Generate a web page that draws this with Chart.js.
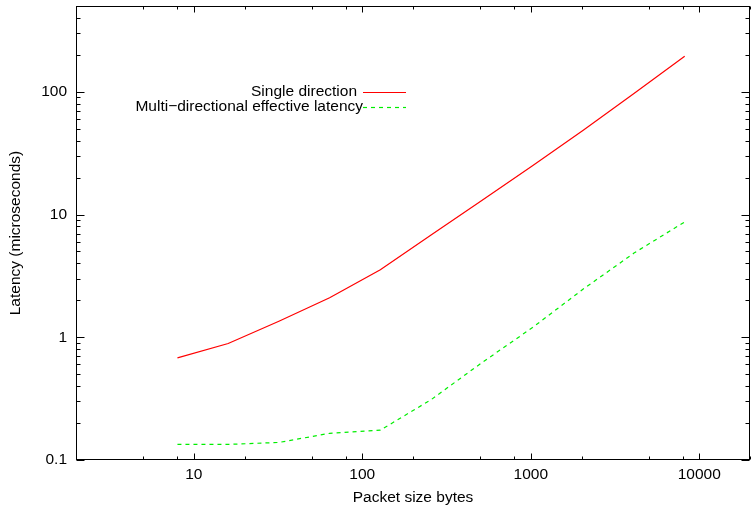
<!DOCTYPE html>
<html>
<head>
<meta charset="utf-8">
<script src="https://cdn.jsdelivr.net/npm/chart.js@4/dist/chart.umd.min.js"></script>
<style>
    body { margin: 0; background: #fff; }
</style>
</head>
<body>
<canvas id="latencyChart" width="751" height="507"></canvas>
<script>
var packetSizes = [8, 16, 32, 64, 128, 256, 512, 1024, 2048, 4096, 8192];
var singleDirection = [0.68, 0.89, 1.35, 2.1, 3.55, 6.8, 13, 25, 48.5, 97, 195];
var multiDirectional = [0.134, 0.134, 0.139, 0.165, 0.175, 0.31, 0.62, 1.2, 2.47, 4.85, 8.7];
var seriesLabels = ['Single direction', 'Multi\u2212directional effective latency'];

var xTickValues = [2, 5, 8, 10, 20, 50, 80, 100, 200, 500, 800, 1000, 2000, 5000, 8000, 10000, 20000];
var yTickValues = [0.1, 0.2, 0.3, 0.4, 0.5, 0.6, 0.7, 0.8, 0.9,
    1, 2, 3, 4, 5, 6, 7, 8, 9,
    10, 20, 30, 40, 50, 60, 70, 80, 90,
    100, 200, 300, 400, 500];

var FONT = '"Liberation Sans", Arial, Helvetica, sans-serif';
var FONT_SIZE = 15.5;

function isMajor(v) {
    var l = Math.log10(v);
    return Math.abs(l - Math.round(l)) < 1e-9;
}

function points(ys) {
    return packetSizes.map(function (x, i) { return { x: x, y: ys[i] }; });
}

function noPadding(scale) {
    scale.paddingTop = 0;
    scale.paddingBottom = 0;
    scale.paddingLeft = 0;
    scale.paddingRight = 0;
}

// gnuplot style frame with inward ticks on all four sides
var framePlugin = {
    id: 'frame',
    afterDatasetsDraw: function (chart) {
        var ctx = chart.ctx;
        var a = chart.chartArea;
        var L = Math.round(a.left) + 0.5, R = Math.round(a.right) - 0.5;
        var T = Math.round(a.top) + 0.5, B = Math.round(a.bottom) - 0.5;
        ctx.save();
        ctx.strokeStyle = '#000';
        ctx.lineWidth = 1;
        ctx.beginPath();
        chart.scales.x.ticks.forEach(function (t) {
            var px = Math.round(chart.scales.x.getPixelForValue(t.value)) + 0.5;
            var len = isMajor(t.value) ? 6 : 3;
            ctx.moveTo(px, B); ctx.lineTo(px, B - len);
            ctx.moveTo(px, T); ctx.lineTo(px, T + len);
        });
        chart.scales.y.ticks.forEach(function (t) {
            var py = Math.round(chart.scales.y.getPixelForValue(t.value)) + 0.5;
            var len = isMajor(t.value) ? 8 : 4;
            ctx.moveTo(L, py); ctx.lineTo(L + len, py);
            ctx.moveTo(R, py); ctx.lineTo(R - len, py);
        });
        ctx.stroke();
        ctx.strokeRect(L, T, R - L, B - T);
        ctx.restore();
    }
};

// key: text right-justified, sample line on the right
var keyPlugin = {
    id: 'key',
    afterDatasetsDraw: function (chart) {
        var ctx = chart.ctx;
        var textRight = [357, 363];
        ctx.save();
        ctx.font = FONT_SIZE + 'px ' + FONT;
        ctx.textAlign = 'right';
        ctx.textBaseline = 'middle';
        chart.data.datasets.forEach(function (ds, i) {
            var y = 92 + i * 14.7;
            ctx.fillStyle = '#000';
            ctx.fillText(ds.label, textRight[i], y);
            ctx.strokeStyle = ds.borderColor;
            ctx.lineWidth = ds.borderWidth;
            ctx.setLineDash(ds.borderDash || []);
            ctx.beginPath();
            ctx.moveTo(363, Math.round(y) + 0.5);
            ctx.lineTo(406, Math.round(y) + 0.5);
            ctx.stroke();
        });
        ctx.restore();
    }
};

var ctx = document.getElementById('latencyChart').getContext('2d');

var chart = new Chart(ctx, {
    type: 'line',
    data: {
        datasets: [{
            label: seriesLabels[0],
            data: points(singleDirection),
            borderColor: '#ff0000',
            borderWidth: 1.2,
            pointRadius: 0,
            tension: 0,
            fill: false
        }, {
            label: seriesLabels[1],
            data: points(multiDirectional),
            borderColor: '#00ee00',
            borderWidth: 1.2,
            borderDash: [4, 4],
            pointRadius: 0,
            tension: 0,
            fill: false
        }]
    },

    plugins: [framePlugin, keyPlugin],

    options: {
        responsive: false,
        animation: false,
        layout: {
            padding: { top: 6, right: 1, left: 0, bottom: 0 }
        },
        plugins: {
            legend: { display: false },
            tooltip: { enabled: false }
        },
        scales: {
            x: {
                type: 'logarithmic',
                position: 'bottom',
                min: 2,
                max: 20000,
                grid: { display: false, drawTicks: false },
                border: { display: false },
                afterBuildTicks: function (scale) {
                    scale.ticks = xTickValues.map(function (v) { return { value: v }; });
                },
                afterFit: function (scale) { scale.height = 47; noPadding(scale); },
                ticks: {
                    autoSkip: false,
                    maxRotation: 0,
                    padding: 5,
                    color: '#000',
                    font: { family: FONT, size: FONT_SIZE },
                    callback: function (value) { return isMajor(value) ? String(value) : ''; }
                },
                title: {
                    display: true,
                    text: 'Packet size bytes',
                    color: '#000',
                    padding: 0,
                    font: { family: FONT, size: FONT_SIZE }
                }
            },
            y: {
                type: 'logarithmic',
                position: 'left',
                min: 0.1,
                max: 500,
                grid: { display: false, drawTicks: false },
                border: { display: false },
                afterBuildTicks: function (scale) {
                    scale.ticks = yTickValues.map(function (v) { return { value: v }; });
                },
                afterFit: function (scale) { scale.width = 76; noPadding(scale); },
                ticks: {
                    autoSkip: false,
                    padding: 9,
                    color: '#000',
                    font: { family: FONT, size: FONT_SIZE },
                    callback: function (value) { return isMajor(value) ? String(value) : ''; }
                },
                title: {
                    display: true,
                    text: 'Latency (microseconds)',
                    color: '#000',
                    padding: 6,
                    font: { family: FONT, size: FONT_SIZE }
                }
            }
        }
    }
});
</script>
</body>
</html>
